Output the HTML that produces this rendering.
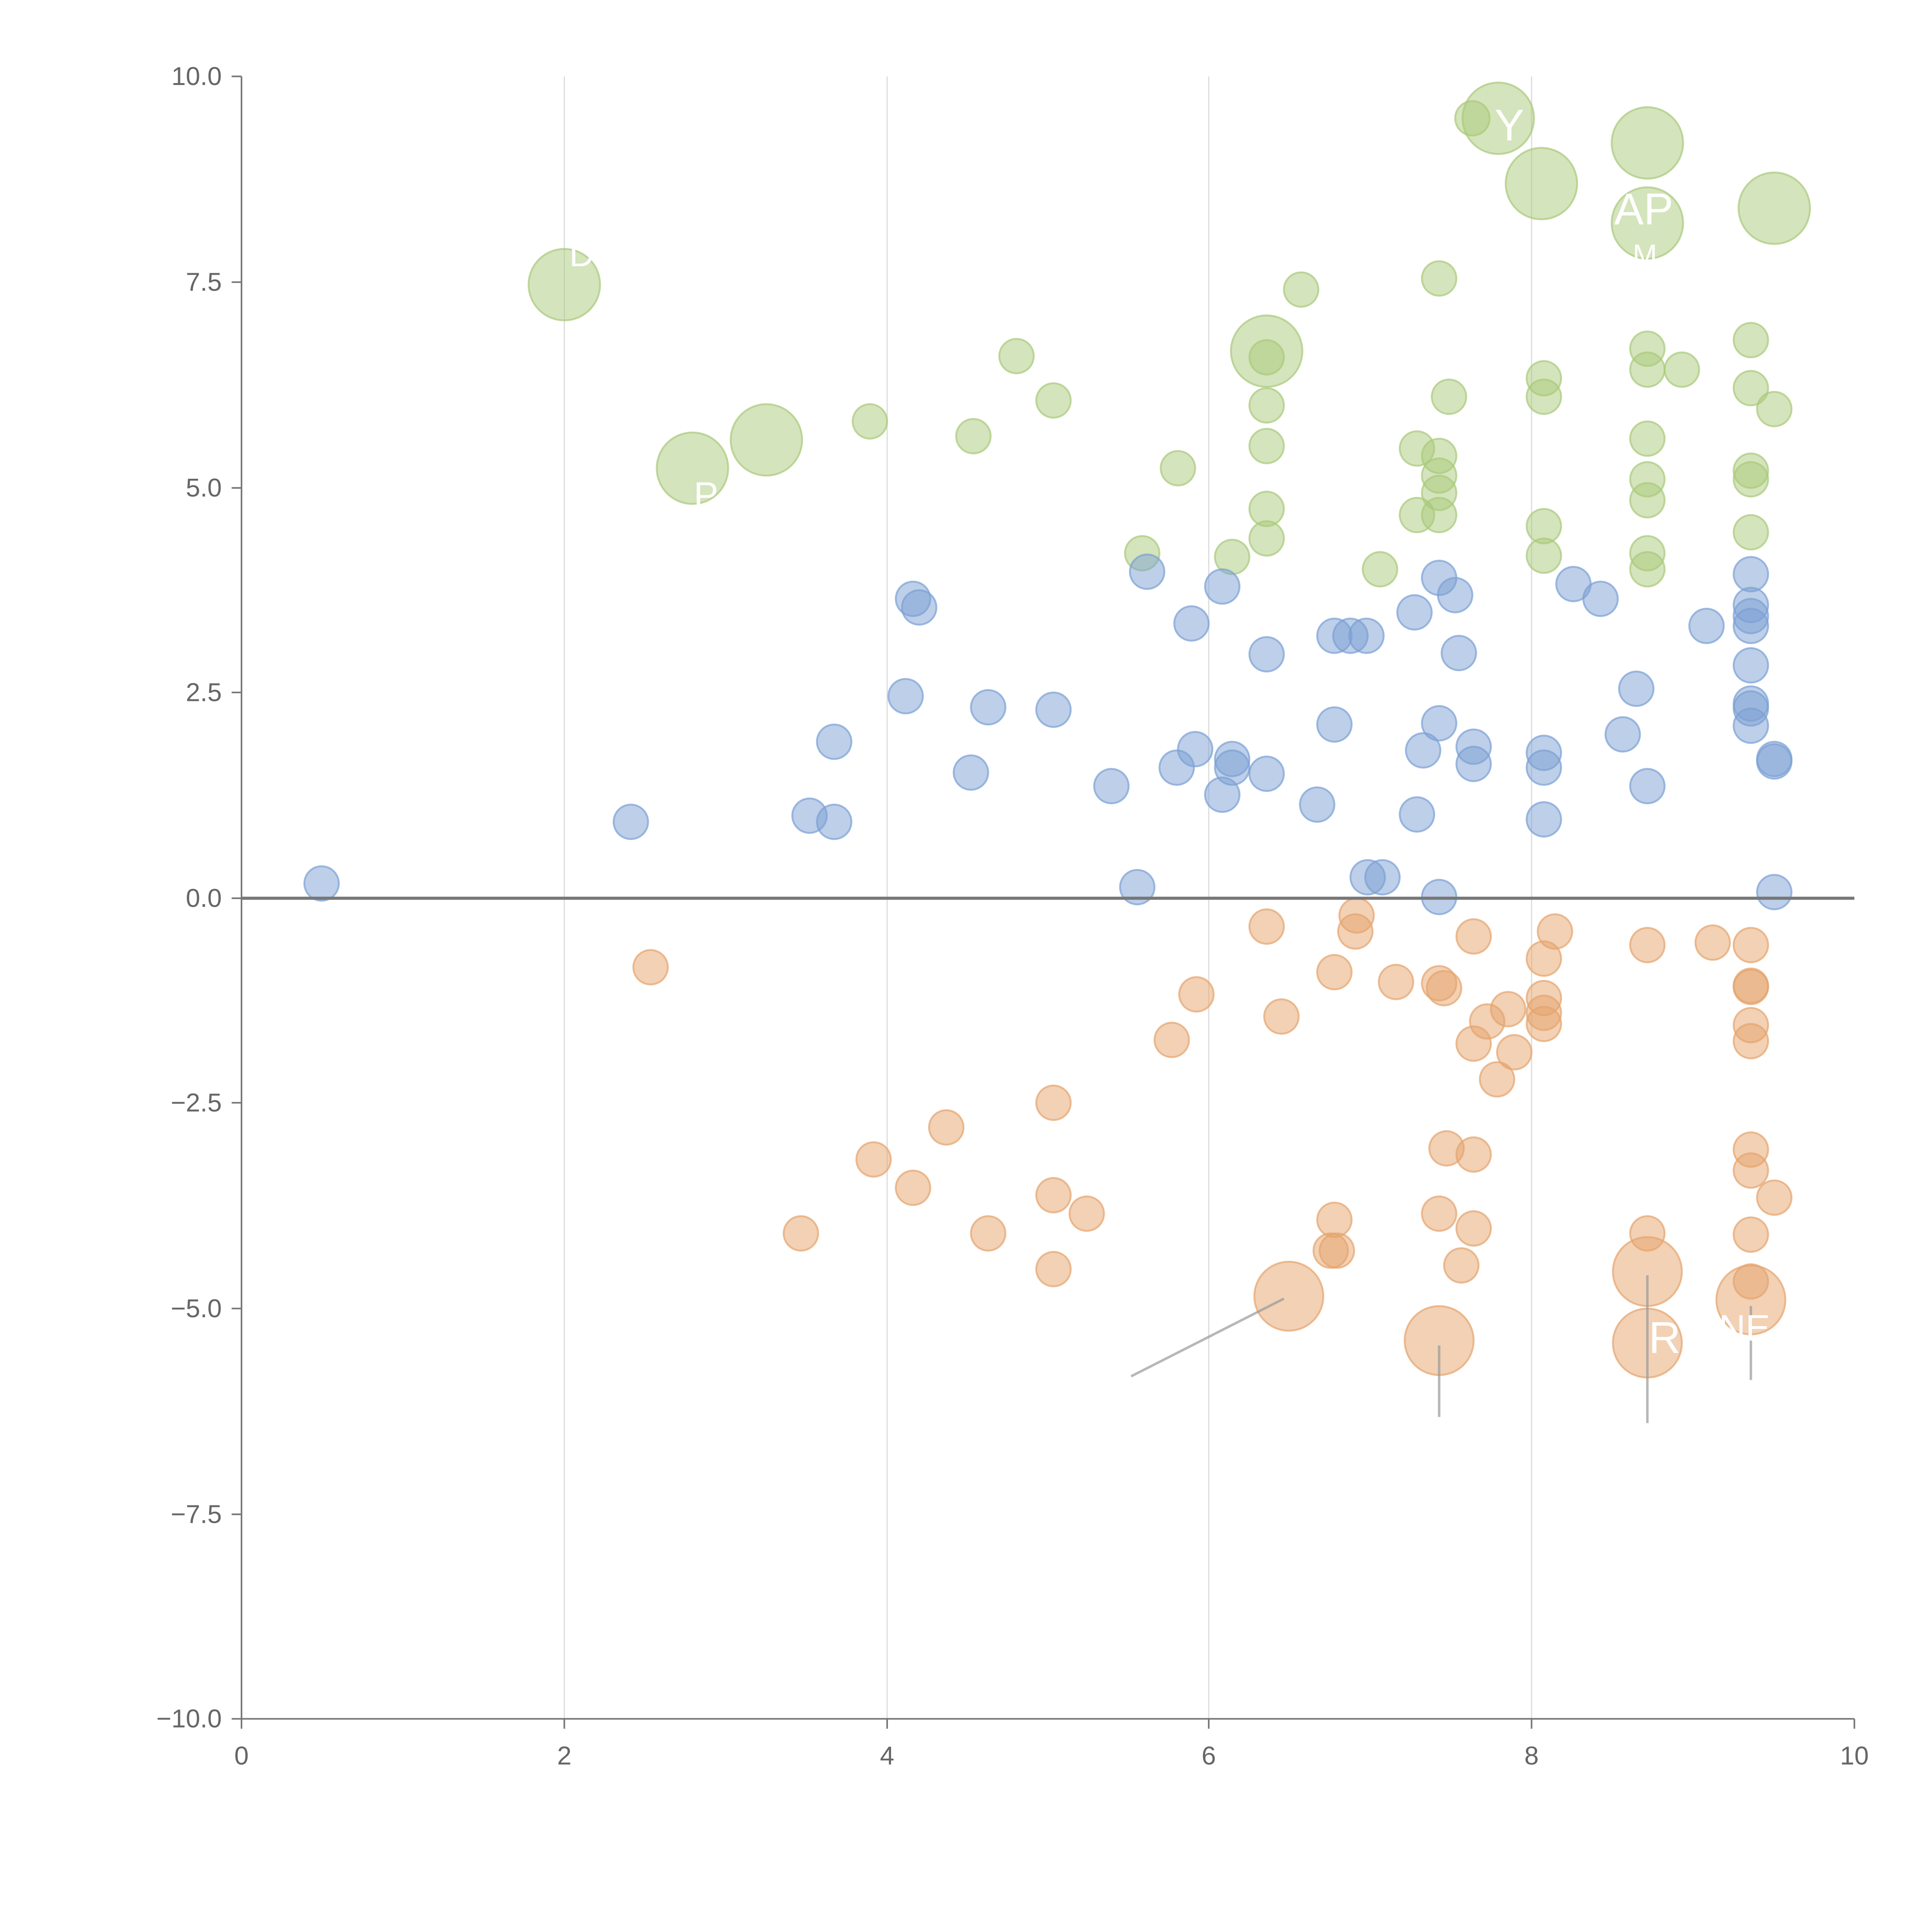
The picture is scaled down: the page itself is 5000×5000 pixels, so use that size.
<!DOCTYPE html>
<html><head><meta charset="utf-8"><style>
html,body{margin:0;padding:0;background:#fff;}
svg{display:block;}
text{font-family:"Liberation Sans",Arial,sans-serif;}
.g circle{fill:#a9c97a;fill-opacity:0.5;stroke:#a9c97a;stroke-opacity:0.7;stroke-width:1.5}
.b circle{fill:#7b9fd4;fill-opacity:0.5;stroke:#7b9fd4;stroke-opacity:0.7;stroke-width:1.5}
.o circle{fill:#e6a46c;fill-opacity:0.5;stroke:#e6a46c;stroke-opacity:0.7;stroke-width:1.5}
.t{fill:#666;font-size:21px}
</style></head><body>
<svg width="5000" height="5000" viewBox="0 0 1568 1568" preserveAspectRatio="none" xmlns="http://www.w3.org/2000/svg">
<rect width="1568" height="1568" fill="#fff"/>
<g stroke="#ddd" stroke-width="1">
<line x1="458" y1="62" x2="458" y2="1395"/><line x1="720" y1="62" x2="720" y2="1395"/>
<line x1="981" y1="62" x2="981" y2="1395"/><line x1="1243" y1="62" x2="1243" y2="1395"/>
</g>
<g stroke="#777" stroke-width="1.3">
<line x1="196" y1="62" x2="196" y2="1395"/><line x1="196" y1="1395" x2="1505" y2="1395"/>
<line x1="188" y1="62" x2="196" y2="62"/><line x1="188" y1="229" x2="196" y2="229"/>
<line x1="188" y1="396" x2="196" y2="396"/><line x1="188" y1="562" x2="196" y2="562"/>
<line x1="188" y1="729" x2="196" y2="729"/><line x1="188" y1="895" x2="196" y2="895"/>
<line x1="188" y1="1062" x2="196" y2="1062"/><line x1="188" y1="1229" x2="196" y2="1229"/>
<line x1="188" y1="1395" x2="196" y2="1395"/>
<line x1="196" y1="1395" x2="196" y2="1403"/><line x1="458" y1="1395" x2="458" y2="1403"/>
<line x1="720" y1="1395" x2="720" y2="1403"/><line x1="981" y1="1395" x2="981" y2="1403"/>
<line x1="1243" y1="1395" x2="1243" y2="1403"/><line x1="1505" y1="1395" x2="1505" y2="1403"/>
</g>
<g class="t" text-anchor="end">
<text x="180" y="69">10.0</text><text x="180" y="236">7.5</text><text x="180" y="403">5.0</text>
<text x="180" y="569">2.5</text><text x="180" y="736">0.0</text><text x="180" y="902">−2.5</text>
<text x="180" y="1069">−5.0</text><text x="180" y="1236">−7.5</text><text x="180" y="1402">−10.0</text>
</g>
<g class="t" text-anchor="middle">
<text x="196" y="1432">0</text><text x="458" y="1432">2</text><text x="720" y="1432">4</text>
<text x="981" y="1432">6</text><text x="1243" y="1432">8</text><text x="1505" y="1432">10</text>
</g>
<g class="g">
<circle cx="1195" cy="96" r="14"/><circle cx="1168" cy="226" r="14"/><circle cx="1056" cy="235" r="14"/><circle cx="825" cy="289" r="14"/><circle cx="855" cy="325" r="14"/><circle cx="706" cy="342" r="14"/><circle cx="790" cy="354" r="14"/><circle cx="956" cy="380" r="14"/><circle cx="927" cy="449" r="14"/><circle cx="1000" cy="452" r="14"/><circle cx="1028" cy="290" r="14"/><circle cx="1028" cy="329" r="14"/><circle cx="1028" cy="362" r="14"/><circle cx="1028" cy="413" r="14"/><circle cx="1028" cy="437" r="14"/><circle cx="1120" cy="462" r="14"/><circle cx="1176" cy="322" r="14"/><circle cx="1150" cy="364" r="14"/><circle cx="1168" cy="370" r="14"/><circle cx="1168" cy="386" r="14"/><circle cx="1168" cy="400" r="14"/><circle cx="1168" cy="418" r="14"/><circle cx="1150" cy="418" r="14"/><circle cx="1253" cy="307" r="14"/><circle cx="1253" cy="322" r="14"/><circle cx="1253" cy="427" r="14"/><circle cx="1253" cy="451" r="14"/><circle cx="1337" cy="283" r="14"/><circle cx="1337" cy="300" r="14"/><circle cx="1337" cy="356" r="14"/><circle cx="1337" cy="389" r="14"/><circle cx="1337" cy="406" r="14"/><circle cx="1337" cy="449" r="14"/><circle cx="1337" cy="462" r="14"/><circle cx="1365" cy="300" r="14"/><circle cx="1421" cy="276" r="14"/><circle cx="1421" cy="315" r="14"/><circle cx="1421" cy="382" r="14"/><circle cx="1421" cy="389" r="14"/><circle cx="1421" cy="432" r="14"/><circle cx="1440" cy="332" r="14"/>
<circle cx="458" cy="231" r="29"/><circle cx="562" cy="380" r="29"/><circle cx="622" cy="357" r="29"/><circle cx="1028" cy="285" r="29"/><circle cx="1216" cy="96" r="29"/><circle cx="1251" cy="149" r="29"/><circle cx="1337" cy="116" r="29"/><circle cx="1337" cy="181" r="29"/><circle cx="1440" cy="169" r="29"/>
</g>
<g class="b">
<circle cx="261" cy="717" r="14"/><circle cx="512" cy="667" r="14"/><circle cx="657" cy="662" r="14"/><circle cx="677" cy="667" r="14"/><circle cx="677" cy="602" r="14"/><circle cx="735" cy="565" r="14"/><circle cx="741" cy="486" r="14"/><circle cx="746" cy="493" r="14"/><circle cx="788" cy="627" r="14"/><circle cx="802" cy="574" r="14"/><circle cx="855" cy="576" r="14"/><circle cx="902" cy="638" r="14"/><circle cx="923" cy="720" r="14"/><circle cx="931" cy="464" r="14"/><circle cx="955" cy="623" r="14"/><circle cx="967" cy="506" r="14"/><circle cx="970" cy="608" r="14"/><circle cx="992" cy="476" r="14"/><circle cx="992" cy="645" r="14"/><circle cx="1000" cy="616" r="14"/><circle cx="1000" cy="623" r="14"/><circle cx="1028" cy="531" r="14"/><circle cx="1028" cy="628" r="14"/><circle cx="1069" cy="653" r="14"/><circle cx="1083" cy="516" r="14"/><circle cx="1083" cy="588" r="14"/><circle cx="1096" cy="516" r="14"/><circle cx="1109" cy="516" r="14"/><circle cx="1110" cy="712" r="14"/><circle cx="1122" cy="712" r="14"/><circle cx="1150" cy="661" r="14"/><circle cx="1148" cy="497" r="14"/><circle cx="1155" cy="609" r="14"/><circle cx="1168" cy="469" r="14"/><circle cx="1168" cy="587" r="14"/><circle cx="1168" cy="728" r="14"/><circle cx="1181" cy="483" r="14"/><circle cx="1184" cy="530" r="14"/><circle cx="1196" cy="606" r="14"/><circle cx="1196" cy="620" r="14"/><circle cx="1253" cy="611" r="14"/><circle cx="1253" cy="623" r="14"/><circle cx="1253" cy="665" r="14"/><circle cx="1277" cy="474" r="14"/><circle cx="1299" cy="486" r="14"/><circle cx="1317" cy="596" r="14"/><circle cx="1328" cy="559" r="14"/><circle cx="1337" cy="638" r="14"/><circle cx="1385" cy="508" r="14"/><circle cx="1421" cy="466" r="14"/><circle cx="1421" cy="491" r="14"/><circle cx="1421" cy="500" r="14"/><circle cx="1421" cy="508" r="14"/><circle cx="1421" cy="540" r="14"/><circle cx="1421" cy="571" r="14"/><circle cx="1421" cy="575" r="14"/><circle cx="1421" cy="589" r="14"/><circle cx="1440" cy="616" r="14"/><circle cx="1440" cy="618" r="14"/><circle cx="1440" cy="724" r="14"/>
</g>
<g class="o">
<circle cx="528" cy="785" r="14"/><circle cx="650" cy="1001" r="14"/><circle cx="709" cy="941" r="14"/><circle cx="741" cy="964" r="14"/><circle cx="768" cy="915" r="14"/><circle cx="802" cy="1001" r="14"/><circle cx="855" cy="895" r="14"/><circle cx="855" cy="970" r="14"/><circle cx="855" cy="1030" r="14"/><circle cx="882" cy="985" r="14"/><circle cx="951" cy="844" r="14"/><circle cx="971" cy="807" r="14"/><circle cx="1028" cy="752" r="14"/><circle cx="1040" cy="825" r="14"/><circle cx="1083" cy="789" r="14"/><circle cx="1083" cy="990" r="14"/><circle cx="1080" cy="1015" r="14"/><circle cx="1085" cy="1015" r="14"/><circle cx="1101" cy="743" r="14"/><circle cx="1100" cy="756" r="14"/><circle cx="1133" cy="797" r="14"/><circle cx="1168" cy="798" r="14"/><circle cx="1172" cy="802" r="14"/><circle cx="1168" cy="985" r="14"/><circle cx="1174" cy="932" r="14"/><circle cx="1186" cy="1027" r="14"/><circle cx="1196" cy="760" r="14"/><circle cx="1196" cy="847" r="14"/><circle cx="1196" cy="937" r="14"/><circle cx="1196" cy="997" r="14"/><circle cx="1207" cy="829" r="14"/><circle cx="1215" cy="876" r="14"/><circle cx="1224" cy="819" r="14"/><circle cx="1229" cy="854" r="14"/><circle cx="1253" cy="778" r="14"/><circle cx="1253" cy="810" r="14"/><circle cx="1253" cy="822" r="14"/><circle cx="1253" cy="831" r="14"/><circle cx="1262" cy="756" r="14"/><circle cx="1337" cy="767" r="14"/><circle cx="1337" cy="1001" r="14"/><circle cx="1390" cy="765" r="14"/><circle cx="1421" cy="767" r="14"/><circle cx="1421" cy="800" r="14"/><circle cx="1421" cy="801" r="14"/><circle cx="1421" cy="832" r="14"/><circle cx="1421" cy="845" r="14"/><circle cx="1421" cy="933" r="14"/><circle cx="1421" cy="950" r="14"/><circle cx="1421" cy="1002" r="14"/><circle cx="1421" cy="1040" r="14"/><circle cx="1440" cy="972" r="14"/>
<circle cx="1046" cy="1052" r="28"/><circle cx="1168" cy="1088" r="28"/><circle cx="1337" cy="1032" r="28"/><circle cx="1337" cy="1090" r="28"/><circle cx="1421" cy="1055" r="28"/>
</g>
<line x1="196" y1="729" x2="1505" y2="729" stroke="#777" stroke-width="2.5"/>
<g stroke="#999" stroke-opacity="0.7" stroke-width="2">
<line x1="918" y1="1117" x2="1042" y2="1054"/>
<line x1="1168" y1="1092" x2="1168" y2="1150"/>
<line x1="1337" y1="1035" x2="1337" y2="1155"/>
<line x1="1421" y1="1060" x2="1421" y2="1120"/>
</g>
<g fill="#fff" font-size="36">
<text x="1338" y="1098">R</text><text x="1395" y="1088" font-size="30">NE</text>
<text x="1310" y="182">AP</text><text x="1213" y="114">Y</text>
<text x="563" y="412" font-size="30">P</text><text x="462" y="216" font-size="28">D</text>
<text x="1325" y="215" font-size="24">M</text>
</g>
</svg>
</body></html>
